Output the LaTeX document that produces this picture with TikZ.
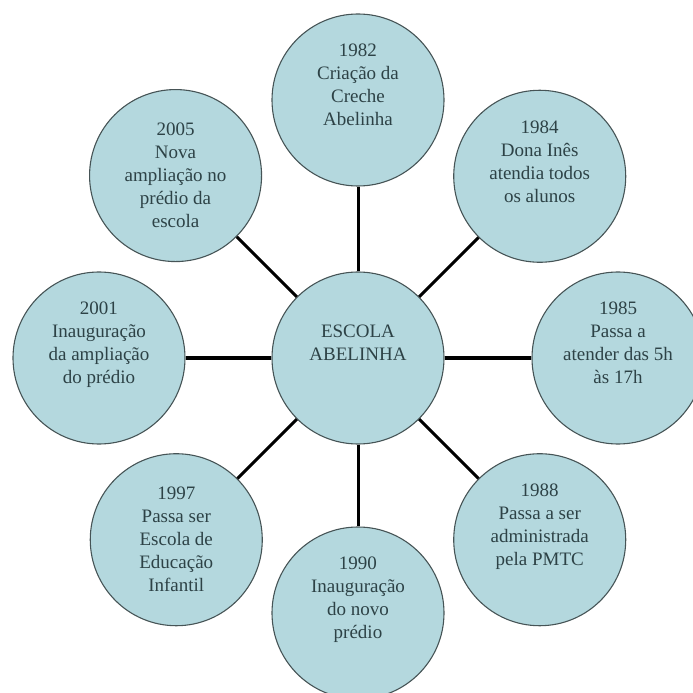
\documentclass[tikz,border=0pt]{standalone}
\usepackage{fontspec}
\setmainfont{Liberation Serif}
\usepackage{tikz}
\usetikzlibrary{calc}

\definecolor{bubblefill}{RGB}{180,216,222}
\definecolor{bubbleedge}{RGB}{70,84,86}
\definecolor{bubbletext}{RGB}{45,66,70}

\begin{document}
\begin{tikzpicture}[x=1pt, y=1pt,
    bubble/.style={circle, draw=bubbleedge, line width=1.1pt, fill=bubblefill,
        minimum size=172pt, inner sep=0pt, align=center, text=bubbletext,
        font=\fontsize{19}{23}\selectfont},
    spoke/.style={draw=black, line width=3pt}]

    \useasboundingbox (-358,-335) rectangle (335,358);
    \clip (-358,-335) rectangle (335,358);

    \coordinate (O) at (0,0);

    \node[bubble] (escola) at (O) {ESCOLA\\ABELINHA\\\strut};

    \node[bubble] (y1982) at (90:258) {1982\\Criação da\\Creche\\Abelinha\\\strut};
    \node[bubble] (y1984) at (45:257) {1984\\Dona Inês\\atendia todos\\os alunos\\\strut};
    \node[bubble] (y1985) at (0:260) {1985\\Passa a\\atender das 5h\\às 17h\\\strut};
    \node[bubble] (y1988) at (-45:257) {1988\\Passa a ser\\administrada\\pela PMTC\\\strut};
    \node[bubble] (y1990) at (-90:255) {1990\\Inauguração\\do novo\\prédio\\\strut};
    \node[bubble] (y1997) at (-135:257) {1997\\Passa ser\\Escola de\\Educação\\Infantil};
    \node[bubble] (y2001) at (180:259) {2001\\Inauguração\\da ampliação\\do prédio\\\strut};
    \node[bubble] (y2005) at (135:258) {2005\\Nova\\ampliação no\\prédio da\\escola};

    % spokes from the school to each year
    \draw[spoke] (escola) -- (y1982);
    \draw[spoke] (escola) -- (y1984);
    \draw[spoke] (escola) -- (y1985);
    \draw[spoke] (escola) -- (y1988);
    \draw[spoke] (escola) -- (y1990);
    \draw[spoke] (escola) -- (y1997);
    \draw[spoke] (escola) -- (y2001);
    \draw[spoke] (escola) -- (y2005);
\end{tikzpicture}
\end{document}
